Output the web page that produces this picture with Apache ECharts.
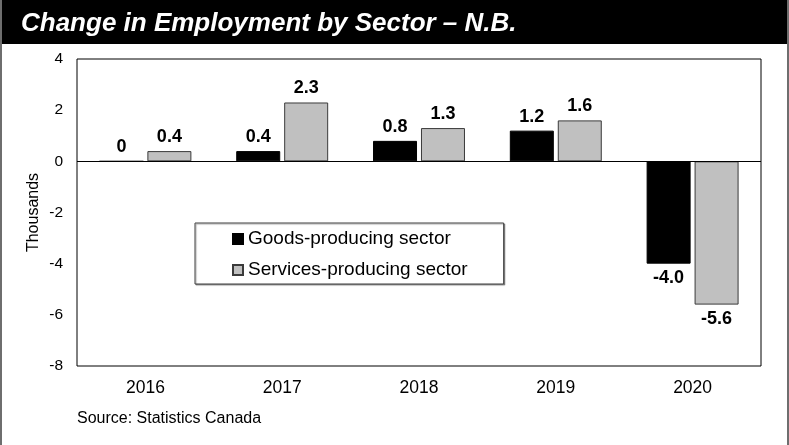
<!DOCTYPE html>
<html>
<head>
<meta charset="utf-8">
<style>
  html, body { margin: 0; padding: 0; background: #ffffff; }
  #chart { width: 789px; height: 445px; }
</style>
<script src="https://cdn.jsdelivr.net/npm/echarts@6/dist/echarts.min.js"></script>
</head>
<body>
<div id="chart"></div>
<script>
// Change in employment, thousands, New Brunswick
const years = ['2016', '2017', '2018', '2019', '2020'];
const goodsProducing = [0, 0.4, 0.8, 1.2, -4.0];
const servicesProducing = [0.4, 2.3, 1.3, 1.6, -5.6];
const seriesNames = ['Goods-producing sector', 'Services-producing sector'];
const yTicks = { min: -8, max: 4, step: 2 };

const FONT = '"Liberation Sans", Arial, Helvetica, sans-serif';

function fmt(v) {
  return v === 0 ? '0' : v.toFixed(1);
}

// Positive values get their label above the bar, negative below.
function withLabels(values) {
  return values.map(v => ({
    value: v,
    label: { position: v < 0 ? 'bottom' : 'top' }
  }));
}

const labelStyle = {
  show: true,
  fontFamily: FONT,
  fontSize: 18,
  fontWeight: 'bold',
  color: '#000',
  distance: 5,
  formatter: p => fmt(p.value)
};

const chart = echarts.init(document.getElementById('chart'), null, { renderer: 'canvas' });

chart.setOption({
  animation: false,
  backgroundColor: '#ffffff',
  title: {
    text: 'Change in Employment by Sector \u2013 N.B.',
    left: 21,
    top: 8,
    padding: 0,
    textStyle: {
      color: '#ffffff',
      fontFamily: FONT,
      fontSize: 26,
      fontStyle: 'italic',
      fontWeight: 'bold',
      lineHeight: 32
    },
    z: 10
  },
  graphic: [
    { type: 'rect', shape: { x: 0, y: 0, width: 789, height: 44 }, style: { fill: '#000' }, z: 0 },
    { type: 'rect', shape: { x: 0, y: 0, width: 2, height: 445 }, style: { fill: '#6e6e6e' }, z: 0 },
    { type: 'rect', shape: { x: 787, y: 0, width: 2, height: 445 }, style: { fill: '#6e6e6e' }, z: 0 },
    {
      type: 'text', left: 77, top: 411,
      style: { text: 'Source: Statistics Canada', fontFamily: FONT, fontSize: 16, fill: '#000' }
    }
  ],
  legend: {
    orient: 'vertical',
    left: 195,
    top: 223,
    padding: [6, 36, 4, 37],
    itemWidth: 10,
    itemHeight: 10,
    itemGap: 11,
    icon: 'rect',
    borderColor: '#404040',
    borderWidth: 1,
    backgroundColor: '#ffffff',
    shadowColor: 'rgba(0,0,0,0.35)',
    shadowBlur: 1,
    shadowOffsetX: 1,
    shadowOffsetY: 1,
    textStyle: { fontFamily: FONT, fontSize: 19, color: '#000', lineHeight: 20 },
    data: seriesNames
  },
  grid: {
    left: 77,
    right: 28,
    top: 59,
    bottom: 79,
    show: true,
    borderColor: '#000',
    borderWidth: 1,
    backgroundColor: 'transparent'
  },
  xAxis: {
    type: 'category',
    data: years,
    axisLine: { show: false },
    axisTick: { show: false },
    splitLine: { show: false },
    axisLabel: { fontFamily: FONT, fontSize: 17.5, color: '#000', margin: 13 }
  },
  yAxis: {
    type: 'value',
    min: yTicks.min,
    max: yTicks.max,
    interval: yTicks.step,
    name: 'Thousands',
    nameLocation: 'middle',
    nameRotate: 90,
    nameGap: 35,
    nameMoveOverlap: false,
    nameTextStyle: { fontFamily: FONT, fontSize: 16, color: '#000' },
    axisLine: { show: false },
    axisTick: { show: false },
    splitLine: { show: false },
    axisLabel: { fontFamily: FONT, fontSize: 15.5, color: '#000', margin: 14 }
  },
  series: [
    {
      name: seriesNames[0],
      type: 'bar',
      data: withLabels(goodsProducing),
      barWidth: 44,
      barGap: '9%',
      itemStyle: { color: '#000000', borderColor: '#000000', borderWidth: 1 },
      label: labelStyle,
      markLine: {
        silent: true,
        symbol: 'none',
        label: { show: false },
        lineStyle: { color: '#000', width: 1, type: 'solid' },
        data: [{ yAxis: 0 }],
        z: 5
      }
    },
    {
      name: seriesNames[1],
      type: 'bar',
      data: withLabels(servicesProducing),
      barWidth: 44,
      barGap: '9%',
      itemStyle: { color: '#c0c0c0', borderColor: '#3a3a3a', borderWidth: 1 },
      label: labelStyle
    }
  ]
});
</script>
</body>
</html>
